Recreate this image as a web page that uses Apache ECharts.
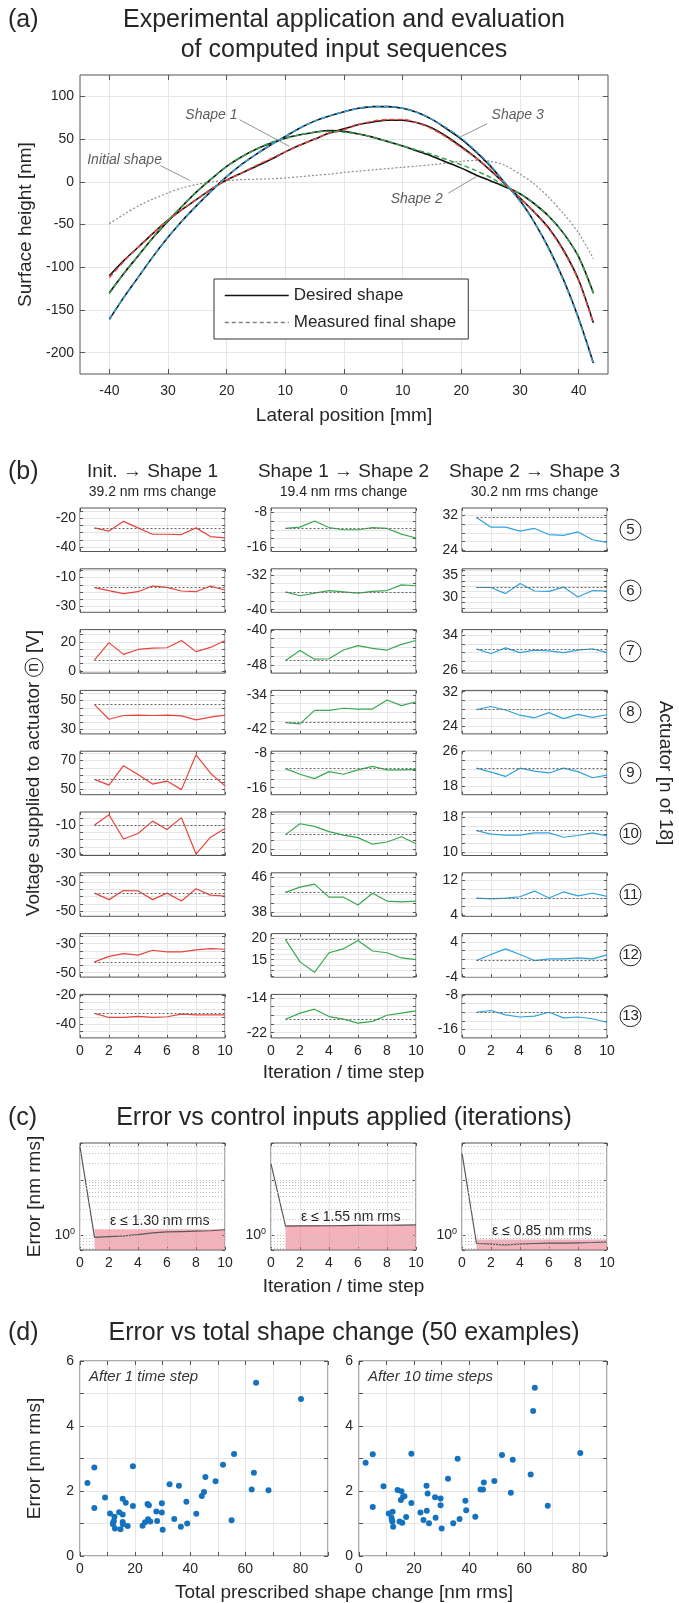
<!DOCTYPE html>
<html lang="en">
<head>
<meta charset="UTF-8">
<title>Computed input sequences</title>
<script src="https://cdn.jsdelivr.net/npm/echarts@6.0.0/dist/echarts.min.js"></script>
<style>
  html, body { margin: 0; padding: 0; background: #ffffff; }
  #main { width: 679px; height: 1603px; }
</style>
</head>
<body>
<div id="main"></div>
<script>
// ---------- (a) surface profiles (mm, nm) ----------
var lateralPos = [-40, -37.5, -35, -32.5, -30, -27.5, -25, -22.5, -20, -17.5, -15, -12.5, -10, -7.5, -5, -2.5, 0, 2.5, 5, 7.5, 10, 12.5, 15, 17.5, 20, 22.5, 25, 27.5, 30, 32.5, 35, 37.5, 40, 42.5];
var initialShape = [-49, -38, -28, -20, -13, -7, -3, 0, 1.5, 2.5, 3, 3.5, 4.5, 6, 7.5, 9, 11, 12.5, 14, 15.5, 17, 18.5, 20, 22, 24, 25, 24, 19, 9, -3, -19, -38, -60, -90];
var shape1Desired = [-110, -92, -76, -60, -45, -32, -20, -8, 2, 10, 18, 26, 35, 43, 50, 57, 62, 67, 70, 72, 72, 69, 63, 53, 41, 28, 13, -3, -19, -36, -55, -81, -115, -165];
var shape1Measured = [-112, -93, -76, -60, -45, -32, -20, -8, 2, 10, 19, 27, 35, 43, 50, 57, 61, 67, 71, 73, 73, 69, 62, 52, 40, 28, 14, -3, -19, -36, -56, -82, -116, -166];
var shape2Desired = [-130, -107, -86, -65, -46, -28, -11, 4, 18, 29, 38, 45, 51, 55, 58, 60, 59, 56, 52, 47, 42, 36, 30, 23, 16, 8, 1, -6, -14, -26, -41, -61, -88, -130];
var shape2Measured = [-131, -107, -86, -65, -45, -28, -11, 4, 18, 29, 38, 46, 51, 55, 58, 59, 58, 56, 52, 47, 42, 37, 32, 26, 20, 13, 5, -5, -14, -26, -41, -61, -88, -131];
var shape3Desired = [-161, -135, -111, -87, -65, -45, -27, -10, 6, 20, 32, 43, 53, 63, 71, 77, 82, 86, 88, 88, 86, 81, 73, 62, 50, 35, 18, -2, -22, -48, -79, -116, -160, -212];
var shape3Measured = [-160, -135, -111, -87, -65, -45, -27, -10, 6, 20, 32, 43, 53, 63, 71, 77, 82, 86, 88, 88, 86, 81, 73, 63, 51, 36, 19, -2, -23, -48, -80, -117, -161, -213];
var posTicks = [-40, -30, -20, -10, 0, 10, 20, 30, 40];
var posTickLabels = ['-40', '30', '20', '10', '0', '10', '20', '30', '40'];
var heightTicks = [-200, -150, -100, -50, 0, 50, 100];
// annotations: label anchor and leader line, in data units
var annoNames = ['Shape 1', 'Shape 2', 'Shape 3', 'Initial shape'];
var annoAt = [[-22.6, 78.5], [12.4, -20], [29.6, 77.7], [-37.4, 25.8]];
var annoFrom = [[-17.8, 72.7], [17.8, -13.3], [24.4, 68], [-31.3, 19]];
var annoTo = [[-9.3, 41.4], [22.6, 6.2], [20, 53], [-26.3, 1.6]];

// ---------- (b) actuator voltages per iteration ----------
var actuators = [5, 6, 7, 8, 9, 10, 11, 12, 13];
var steps = [1, 2, 3, 4, 5, 6, 7, 8, 9, 10];
var colTitles = ['Init. \u2192 Shape 1', 'Shape 1 \u2192 Shape 2', 'Shape 2 \u2192 Shape 3'];
var colChanges = ['39.2 nm rms change', '19.4 nm rms change', '30.2 nm rms change'];
var voltInitToS1 = [
  [-26.7, -28.9, -22.2, -26.7, -31.1, -31.1, -31.3, -26.7, -32.7, -33.6],
  [-17.0, -19.1, -21.1, -19.8, -15.9, -16.8, -19.3, -19.8, -15.9, -18.6],
  [7.6, 19.5, 11.4, 14.8, 15.7, 16.0, 21.0, 13.3, 16.2, 21.0],
  [47.2, 37.1, 39.7, 39.9, 39.7, 39.9, 39.4, 36.7, 38.6, 39.9],
  [57.1, 53.1, 66.5, 60.4, 53.8, 55.9, 50.0, 74.0, 61.3, 52.6],
  [-10.0, -2.9, -19.6, -15.8, -7.3, -13.1, -4.9, -30.0, -18.4, -12.4],
  [-37.5, -42.0, -35.7, -35.9, -42.0, -37.5, -43.0, -34.5, -38.9, -39.5],
  [-42.5, -38.7, -36.8, -37.8, -34.5, -35.6, -35.6, -34.2, -33.3, -33.8],
  [-32.6, -35.4, -35.4, -34.7, -35.4, -34.9, -33.1, -33.6, -33.6, -33.6]
];
var voltS1ToS2 = [
  [-11.7, -11.4, -10.0, -11.5, -12.0, -12.0, -11.5, -11.7, -13.0, -13.9],
  [-35.9, -36.8, -36.2, -35.6, -35.9, -36.2, -35.8, -35.6, -34.3, -34.5],
  [-47.0, -44.7, -46.7, -46.6, -44.6, -43.6, -44.2, -44.6, -43.3, -42.4],
  [-40.4, -40.7, -37.6, -37.6, -37.1, -37.3, -37.3, -35.2, -36.5, -35.6],
  [-11.6, -12.9, -13.9, -12.3, -12.9, -11.9, -11.1, -11.9, -11.9, -11.8],
  [23.4, 25.9, 25.3, 24.1, 23.3, 22.7, 21.2, 21.7, 22.9, 21.3],
  [42.5, 43.7, 44.4, 41.4, 41.4, 39.6, 42.3, 40.5, 40.3, 40.5],
  [19.6, 14.5, 12.1, 16.6, 17.5, 19.4, 17.0, 16.6, 15.4, 15.0],
  [-18.9, -17.5, -16.6, -18.3, -18.9, -19.8, -19.4, -18.0, -17.5, -17.0]
];
var voltS2ToS3 = [
  [31.5, 29.3, 29.3, 28.4, 29.0, 27.6, 27.4, 28.2, 26.4, 25.8],
  [32.2, 32.2, 30.8, 33.1, 31.4, 31.3, 32.3, 30.0, 31.5, 31.4],
  [30.8, 29.8, 31.1, 30.0, 30.6, 30.4, 30.0, 30.6, 30.9, 30.0],
  [27.9, 28.6, 27.8, 26.6, 26.0, 27.2, 25.8, 26.8, 26.1, 26.7],
  [22.2, 21.3, 20.3, 22.2, 21.5, 21.1, 22.2, 21.4, 20.0, 20.6],
  [14.9, 14.1, 13.9, 13.9, 14.4, 14.4, 13.4, 13.8, 14.4, 13.7],
  [8.0, 7.8, 8.0, 8.3, 9.6, 8.0, 9.4, 8.5, 9.1, 8.4],
  [-0.3, 1.1, 2.4, 1.1, -0.3, 0.1, 0.1, 0.3, 0.1, 1.0],
  [-12.0, -11.6, -12.6, -13.1, -12.9, -12.0, -13.3, -13.1, -13.5, -14.3]
];
// dotted reference level for each actuator
var refInitToS1 = [-26.7, -17.0, 7.6, 47.2, 57.1, -10.0, -37.5, -42.5, -32.6];
var refS1ToS2 = [-11.7, -35.9, -47.0, -40.4, -11.6, 23.4, 42.5, 19.6, -18.9];
var refS2ToS3 = [31.5, 32.2, 30.8, 27.9, 22.2, 14.9, 8.0, -0.3, -12.0];
// axis windows and the two labelled ticks of each small plot
var limInitToS1 = [[-43, -13], [-34, -4], [-1.5, 28.5], [27, 57], [46.5, 76.5], [-31, -1], [-53.5, -23.5], [-53, -23], [-49.5, -19.5]];
var limS1ToS2 = [[-17, -7], [-40.6, -30.6], [-49.9, -39.9], [-43, -33], [-17.6, -7.6], [18.6, 28.6], [37, 47], [11, 21], [-23.2, -13.2]];
var limS2ToS3 = [[23.7, 33.7], [26.5, 36.5], [25.3, 35.3], [22.3, 32.3], [16.1, 26.1], [9.2, 19.2], [3.8, 13.8], [-4.1, 5.9], [-17.9, -7.9]];
var lblInitToS1 = [[-40, -20], [-30, -10], [0, 20], [30, 50], [50, 70], [-30, -10], [-50, -30], [-50, -30], [-40, -20]];
var lblS1ToS2 = [[-16, -8], [-40, -32], [-48, -40], [-42, -34], [-16, -8], [20, 28], [38, 46], [15, 20], [-22, -14]];
var lblS2ToS3 = [[24, 32], [30, 35], [26, 34], [24, 32], [18, 26], [10, 18], [4, 12], [-4, 4], [-16, -8]];

// ---------- (c) error vs iteration ----------
var iterSteps = [0, 1, 2, 3, 4, 5, 6, 7, 8, 9, 10];
var errInitToS1 = [39.2, 0.93, 0.96, 0.99, 1.04, 1.12, 1.16, 1.18, 1.20, 1.22, 1.27];
var errS1ToS2 = [19.4, 1.48, 1.49, 1.49, 1.50, 1.51, 1.52, 1.53, 1.53, 1.54, 1.55];
var errS2ToS3 = [30.2, 0.72, 0.70, 0.68, 0.70, 0.72, 0.73, 0.73, 0.74, 0.75, 0.77];
var epsBounds = [1.30, 1.55, 0.85];
var errGridValues = [0.6, 0.7, 0.8, 0.9, 1, 2, 3, 4, 5, 6, 7, 8, 9, 10, 20, 30, 40];

// ---------- (d) error vs total shape change ----------
var shapeChange1 = [2.7, 5.2, 5.2, 9.1, 10.9, 12.0, 12.0, 12.3, 12.5, 12.7, 14.2, 14.7, 15.5, 15.5, 15.5, 15.6, 16.6, 17.3, 19.2, 19.2, 22.7, 23.6, 24.5, 25.0, 24.7, 25.5, 27.7, 28.0, 29.7, 29.7, 30.0, 32.5, 34.2, 35.9, 36.6, 38.6, 38.9, 42.2, 44.2, 45.0, 45.5, 49.2, 51.9, 55.0, 55.9, 62.3, 63.1, 63.9, 68.4, 80.2];
var error1 = [2.25, 2.72, 1.48, 1.80, 1.31, 1.03, 0.98, 1.08, 1.21, 0.85, 1.35, 0.82, 1.28, 1.76, 1.05, 0.98, 1.64, 0.92, 2.76, 1.54, 0.93, 1.04, 1.60, 1.56, 1.13, 1.06, 1.37, 1.08, 1.62, 1.34, 0.81, 2.21, 1.14, 2.16, 0.90, 1.67, 1.00, 1.30, 1.85, 1.97, 2.43, 2.30, 2.81, 1.10, 3.14, 2.05, 2.56, 5.33, 2.02, 4.83];
var shapeChange10 = [2.4, 5.0, 5.0, 8.9, 10.8, 11.8, 12.2, 12.1, 12.4, 14.0, 14.7, 15.4, 15.2, 15.7, 16.0, 16.5, 17.1, 19.0, 19.0, 22.3, 23.4, 24.5, 24.6, 24.9, 25.4, 27.6, 27.8, 29.6, 29.6, 30.0, 32.3, 34.2, 35.8, 36.5, 38.6, 38.9, 42.2, 44.1, 45.0, 45.3, 49.1, 51.9, 55.1, 55.8, 62.3, 63.2, 63.8, 68.5, 80.3, 12.0];
var error10 = [2.87, 3.13, 1.51, 2.15, 1.31, 1.18, 1.36, 1.06, 0.90, 2.03, 1.06, 1.99, 1.72, 1.02, 1.82, 1.84, 1.20, 3.15, 1.63, 1.34, 1.11, 2.16, 1.39, 1.92, 1.01, 1.81, 1.18, 1.77, 1.56, 0.85, 2.38, 1.01, 2.99, 1.14, 1.70, 1.41, 1.21, 2.05, 2.05, 2.26, 2.31, 3.11, 1.95, 2.96, 2.51, 4.46, 5.18, 1.55, 3.17, 1.10];

// ---------- styling ----------
var FONT = '"Liberation Sans", Arial, Helvetica, sans-serif';
var INK = '#262626', FRAME = '#555555', GRIDC = '#e6e6e6';
var RED = '#e8443c', GREEN = '#38a84f', BLUE = '#2fa2dd', DOTS = '#1572be';
var COLS = [80, 271, 462], COLW = 145;

var chart = echarts.init(document.getElementById('main'));
var grids = [], xAxes = [], yAxes = [], series = [], titles = [];

function addTitle(text, x, yc, size, align, extra) {
  var ts = {fontSize: size, fontWeight: 'normal', color: INK, fontFamily: FONT, lineHeight: size};
  if (extra) { for (var k in extra) ts[k] = extra[k]; }
  titles.push({text: text, left: x, top: yc - size / 2, padding: 0, textAlign: align || 'left', textStyle: ts});
}

function addGrid(left, gTop, width, height) {
  grids.push({left: left, top: gTop, width: width, height: height, show: true,
    borderColor: FRAME, borderWidth: 1, backgroundColor: '#fff'});
  return grids.length - 1;
}

function makeAxis(gi, position, s, primary) {
  var a = {
    gridIndex: gi, position: position, type: s.type || 'value', min: s.min, max: s.max,
    axisLine: {show: false, onZero: false},
    axisTick: {show: true, inside: true, length: s.tickLen || 4, lineStyle: {color: FRAME, width: 1}},
    axisLabel: {show: primary && s.showLabels !== false, color: INK, fontSize: 14, fontFamily: FONT, margin: s.margin || 5},
    splitLine: {show: primary && s.split !== false, lineStyle: {color: GRIDC, width: 1}}
  };
  if (s.interval != null) a.interval = s.interval;
  if (s.type === 'log') a.logBase = 10;
  if (s.ticks) a.axisTick.customValues = s.ticks;
  if (s.labels) a.axisLabel.customValues = s.labels;
  if (s.fmt) a.axisLabel.formatter = s.fmt;
  if (s.rich) a.axisLabel.rich = s.rich;
  var nm = primary ? s.name : s.mirrorName;
  if (nm) {
    a.name = nm;
    a.nameLocation = 'middle';
    a.nameGap = primary ? s.nameGap : s.mirrorGap;
    if (!primary && s.mirrorRotate != null) a.nameRotate = s.mirrorRotate;
    a.nameTextStyle = primary ? {fontSize: 19, color: INK, fontFamily: FONT} : s.mirrorStyle;
  }
  return a;
}

// labelled bottom/left axes plus top/right copies that only carry inner ticks (box style)
function addAxes(gi, xs, ys) {
  var idx = {x: xAxes.length, y: yAxes.length};
  xAxes.push(makeAxis(gi, 'bottom', xs, true));
  xAxes.push(makeAxis(gi, 'top', xs, false));
  yAxes.push(makeAxis(gi, 'left', ys, true));
  yAxes.push(makeAxis(gi, 'right', ys, false));
  return idx;
}

function pairs(xs, ys) { return xs.map(function (x, i) { return [x, ys[i]]; }); }

// ===== panel (a) =====
addTitle('(a)', 8, 20, 25);
addTitle('Experimental application and evaluation', 344, 20, 25, 'center');
addTitle('of computed input sequences', 344, 50, 25, 'center');

var gA = addGrid(80, 75, 528, 299);
var axA = addAxes(gA,
  {min: -45, max: 45, ticks: posTicks, labels: posTicks, tickLen: 5, margin: 10,
   fmt: function (v) { var i = posTicks.indexOf(v); return i < 0 ? '' : posTickLabels[i]; },
   name: 'Lateral position [mm]', nameGap: 32},
  {min: -225, max: 125, ticks: heightTicks, labels: heightTicks, tickLen: 5, margin: 6,
   name: 'Surface height [nm]', nameGap: 36});

function profile(name, ys, color, dash, width, z) {
  series.push({type: 'line', name: name, xAxisIndex: axA.x, yAxisIndex: axA.y,
    data: pairs(lateralPos, ys), symbol: 'none', smooth: 0.3, z: z,
    lineStyle: {color: color, width: width, type: dash}, itemStyle: {color: color}});
}
profile('Initial shape', initialShape, '#8c8c8c', [2, 2], 1.2, 2);
profile('Desired shape', shape1Desired, '#111', 'solid', 1.6, 3);
profile('Desired shape', shape2Desired, '#111', 'solid', 1.6, 3);
profile('Desired shape', shape3Desired, '#111', 'solid', 1.6, 3);
profile('Measured final shape', shape1Measured, RED, [5, 3], 1.5, 4);
profile('Measured final shape', shape2Measured, GREEN, [5, 3], 1.5, 4);
profile('Measured final shape', shape3Measured, BLUE, [5, 3], 1.5, 4);

series.push({type: 'scatter', name: 'annotations', xAxisIndex: axA.x, yAxisIndex: axA.y,
  symbolSize: 0, silent: true, z: 6,
  data: annoNames.map(function (n, i) { return {name: n, value: annoAt[i]}; }),
  label: {show: true, position: 'inside', formatter: '{b}', fontStyle: 'italic',
    fontSize: 14, color: '#333', fontFamily: FONT},
  markLine: {silent: true, symbol: ['none', 'none'], label: {show: false},
    lineStyle: {color: '#777', width: 0.8, type: 'solid'},
    data: annoNames.map(function (n, i) { return [{coord: annoFrom[i]}, {coord: annoTo[i]}]; })}
});

// ===== panel (b) =====
addTitle('(b)', 8, 472, 25);
var colVolts = [voltInitToS1, voltS1ToS2, voltS2ToS3];
var colRefs = [refInitToS1, refS1ToS2, refS2ToS3];
var colLims = [limInitToS1, limS1ToS2, limS2ToS3];
var colLbls = [lblInitToS1, lblS1ToS2, lblS2ToS3];
var colColors = [RED, GREEN, BLUE];

function gridValues(lbl, lim) {
  var q = (lbl[1] - lbl[0]) / 4, out = [];
  for (var k = -8; k <= 12; k++) {
    var v = +(lbl[0] + k * q).toFixed(4);
    if (v >= lim[0] - 1e-6 && v <= lim[1] + 1e-6) out.push(v);
  }
  return out;
}

for (var c = 0; c < 3; c++) {
  addTitle(colTitles[c], COLS[c] + COLW / 2, 472, 19, 'center');
  addTitle(colChanges[c], COLS[c] + COLW / 2, 492, 14, 'center');
  for (var r = 0; r < actuators.length; r++) {
    var rowTop = 508 + 60.8 * r;
    var gi = addGrid(COLS[c], rowTop, COLW, 43.5);
    var last = r === actuators.length - 1;
    var ys = {min: colLims[c][r][0], max: colLims[c][r][1],
      ticks: gridValues(colLbls[c][r], colLims[c][r]), labels: colLbls[c][r], tickLen: 3, margin: 4};
    if (c === 2) {
      ys.mirrorName = '{c|' + actuators[r] + '}';
      ys.mirrorGap = 13;
      ys.mirrorRotate = 0;
      ys.mirrorStyle = {rich: {c: {fontSize: 15, color: INK, fontFamily: FONT, width: 21, height: 21,
        lineHeight: 21, align: 'center', borderColor: INK, borderWidth: 1, borderRadius: 11}}};
    }
    var xs = {min: 0, max: 10, interval: 2, tickLen: 3, showLabels: last, margin: 6};
    if (last && c === 1) { xs.name = 'Iteration / time step'; xs.nameGap = 25; }
    var ax = addAxes(gi, xs, ys);
    series.push({type: 'line', name: 'volt', xAxisIndex: ax.x, yAxisIndex: ax.y,
      data: pairs(steps, colVolts[c][r]), symbol: 'none', z: 4,
      lineStyle: {color: colColors[c], width: 1.2}, itemStyle: {color: colColors[c]},
      markLine: {silent: true, symbol: ['none', 'none'], label: {show: false},
        lineStyle: {color: '#666', width: 1, type: [2, 2]},
        data: [[{coord: [steps[0], colRefs[c][r]]}, {coord: [steps[steps.length - 1], colRefs[c][r]]}]]}
    });
  }
}

// ===== panel (c) =====
addTitle('(c)', 8, 1118, 25);
addTitle('Error vs control inputs applied (iterations)', 344, 1118, 25, 'center');
var colErrs = [errInitToS1, errS1ToS2, errS2ToS3];
var errMin = 0.55, errMax = 46;
for (var c2 = 0; c2 < 3; c2++) {
  var gc = addGrid(COLS[c2], 1143, COLW, 107);
  var xsC = {min: 0, max: 10, interval: 2, tickLen: 3, margin: 6};
  if (c2 === 1) { xsC.name = 'Iteration / time step'; xsC.nameGap = 27; }
  var ysC = {type: 'log', min: errMin, max: errMax, split: false, tickLen: 3, margin: 5,
    fmt: function (v) { return Math.abs(v - 1) < 1e-9 ? '{b|10}{s|0}' : ''; },
    rich: {b: {fontSize: 14, color: INK, fontFamily: FONT}, s: {fontSize: 9, color: INK, fontFamily: FONT, padding: [0, 0, 8, 0]}}};
  if (c2 === 0) { ysC.name = 'Error [nm rms]'; ysC.nameGap = 36; }
  var axC = addAxes(gc, xsC, ysC);
  series.push({type: 'line', name: 'error', xAxisIndex: axC.x, yAxisIndex: axC.y,
    data: pairs(iterSteps, colErrs[c2]), symbol: 'none', z: 4,
    lineStyle: {color: '#595959', width: 1.2}, itemStyle: {color: '#595959'},
    markArea: {silent: true, itemStyle: {color: 'rgba(236,108,124,0.52)'},
      label: {show: true, position: 'top', distance: 1, color: INK, fontSize: 14, fontFamily: FONT,
        formatter: '\u03b5 \u2264 ' + epsBounds[c2].toFixed(2) + ' nm rms'},
      data: [[{coord: [1, errMin]}, {coord: [10, epsBounds[c2]]}]]},
    markLine: {silent: true, symbol: ['none', 'none'], label: {show: false},
      lineStyle: {color: '#c2c2c2', width: 1, type: [1, 2]},
      data: errGridValues.map(function (v) { return {yAxis: v}; })}
  });
}

// ===== panel (d) =====
addTitle('(d)', 8, 1333, 25);
addTitle('Error vs total shape change (50 examples)', 344, 1333, 25, 'center');
addTitle('Total prescribed shape change [nm rms]', 344, 1593, 19, 'center');
var dSets = [[shapeChange1, error1, 'After 1 time step'], [shapeChange10, error10, 'After 10 time steps']];
var dLeft = [80, 359];
for (var d = 0; d < 2; d++) {
  var gd = addGrid(dLeft[d], 1361, 248, 195);
  var ysD = {min: 0, max: 6, interval: 1, tickLen: 4, margin: 6,
    fmt: function (v) { return v % 2 === 0 ? String(v) : ''; }};
  if (d === 0) { ysD.name = 'Error [nm rms]'; ysD.nameGap = 36; }
  var axD = addAxes(gd,
    {min: 0, max: 90, interval: 10, tickLen: 4, margin: 6,
     fmt: function (v) { return v % 20 === 0 ? String(v) : ''; }},
    ysD);
  series.push({type: 'scatter', name: dSets[d][2], xAxisIndex: axD.x, yAxisIndex: axD.y,
    data: pairs(dSets[d][0], dSets[d][1]), symbolSize: 6, itemStyle: {color: DOTS, opacity: 1}, z: 4});
  addTitle(dSets[d][2], dLeft[d] + 9, 1377, 15, 'left', {fontStyle: 'italic', color: '#333'});
}

var option = {
  animation: false,
  backgroundColor: '#ffffff',
  textStyle: {fontFamily: FONT},
  title: titles,
  grid: grids,
  xAxis: xAxes,
  yAxis: yAxes,
  series: series,
  legend: {
    left: 214, top: 279, orient: 'vertical', selectedMode: false,
    padding: [8, 12, 8, 10], itemGap: 10, itemWidth: 64, itemHeight: 14,
    borderColor: '#333', borderWidth: 1, backgroundColor: '#fff',
    itemStyle: {opacity: 0, borderWidth: 0},
    textStyle: {fontSize: 17, color: INK, fontFamily: FONT},
    data: [
      {name: 'Desired shape', lineStyle: {color: '#111', type: 'solid', width: 1.5}},
      {name: 'Measured final shape', lineStyle: {color: '#808080', type: [4, 3], width: 1.5}}
    ]
  },
  graphic: [
    {type: 'text', x: 34, y: 773, rotation: Math.PI / 2, silent: true,
     style: {text: 'Voltage supplied to actuator {c|n} [V]', fill: INK, fontSize: 19, fontFamily: FONT,
       align: 'center', verticalAlign: 'middle',
       rich: {c: {fontSize: 16, fill: INK, fontFamily: FONT, width: 18, height: 18, lineHeight: 18, align: 'center',
         borderColor: INK, borderWidth: 1, borderRadius: 10}}}},
    {type: 'text', x: 665, y: 773, rotation: -Math.PI / 2, silent: true,
     style: {text: 'Actuator [n of 18]', fill: INK, fontSize: 19, fontFamily: FONT,
       align: 'center', verticalAlign: 'middle'}}
  ]
};
chart.setOption(option);
</script>
</body>
</html>
